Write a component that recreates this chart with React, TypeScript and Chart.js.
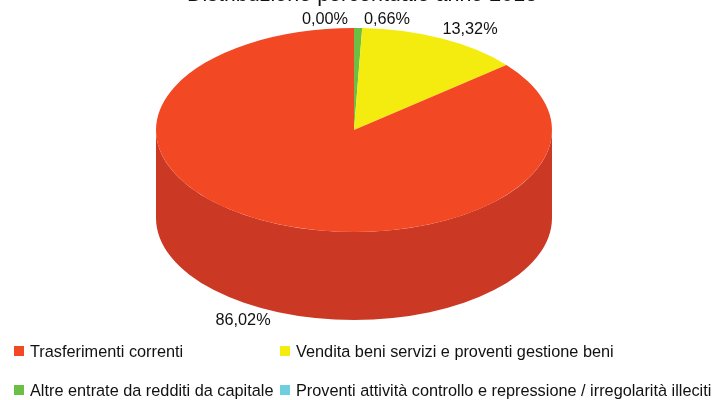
import React, { useEffect, useRef } from "react";
import { Chart, registerables } from "chart.js";

Chart.register(...registerables);

const titleText = "Distribuzione percentuale anno 2018";
const categories = [
  "Trasferimenti correnti",
  "Vendita beni servizi e proventi gestione beni",
  "Altre entrate da redditi da capitale",
  "Proventi attività controllo e repressione / irregolarità illeciti",
];
const seriesValues = [86.02, 13.32, 0.66, 0.0];
const topColors = ["#F24824", "#F4EC0F", "#6CBF45", "#6FCFE0"];
const sideColors = ["#CB3924", "#C9C20C", "#57A038", "#5AAAB8"];

// Layout constants (page pixels)
const CANVAS_TOP = -18;
const CENTER_X = 354;
const CENTER_Y = 130;
const RX = 198;
const RY = 102;
const DEPTH = 88;
const FONT = '"Liberation Sans", Arial, sans-serif';
const labelCentres = [
  [243, 321],
  [470, 30],
  [387, 20],
  [325, 20],
];
const legendCells = [
  [14, 353],
  [280, 353],
  [14, 392],
  [280, 392],
];

const pie3d = {
  id: "pie3d",
  beforeDatasetsDraw(chart: any) {
    const ctx = chart.ctx;
    const meta = chart.getDatasetMeta(0);
    const el = meta.data[0];
    const sx = RX / el.outerRadius;
    const sy = RY / el.outerRadius;
    ctx.save();
    ctx.translate(CENTER_X - el.x * sx, CENTER_Y - CANVAS_TOP - el.y * sy);
    ctx.scale(sx, sy);
    // Side wall: the front-facing part of every slice
    const cy = CENTER_Y - CANVAS_TOP;
    const wallCtx = chart.ctx;
    meta.data.forEach((arc: any, i: number) => {
      const start = Math.max(arc.startAngle, 0);
      const end = Math.min(arc.endAngle, Math.PI);
      if (end <= start) return;
      wallCtx.save();
      wallCtx.setTransform(1, 0, 0, 1, 0, 0);
      wallCtx.beginPath();
      wallCtx.ellipse(CENTER_X, cy, RX, RY, 0, start, end);
      wallCtx.ellipse(CENTER_X, cy + DEPTH, RX, RY, 0, end, start, true);
      wallCtx.closePath();
      wallCtx.fillStyle = sideColors[sideColors.length - 1 - i];
      wallCtx.fill();
      wallCtx.restore();
    });
  },
  afterDatasetsDraw(chart: any) {
    const ctx = chart.ctx;
    ctx.restore();
    const values = chart.data.datasets[0].data.slice().reverse();
    const names = chart.data.labels.slice().reverse();
    ctx.save();
    ctx.font = `16.3px ${FONT}`;
    ctx.fillStyle = "#111";
    ctx.textBaseline = "middle";
    ctx.textAlign = "center";
    values.forEach((v: number, i: number) => {
      const [x, y] = labelCentres[i];
      ctx.fillText(v.toFixed(2).replace(".", ",") + "%", x, y - CANVAS_TOP);
    });
    ctx.textAlign = "left";
    names.forEach((name: string, i: number) => {
      const [x, y] = legendCells[i];
      ctx.fillStyle = topColors[i];
      ctx.fillRect(x, y - 7 - CANVAS_TOP, 10, 10);
      ctx.fillStyle = "#111";
      ctx.fillText(name, x + 16, y - CANVAS_TOP);
    });
    ctx.restore();
  },
};

export default function App() {
  const ref = useRef<HTMLCanvasElement>(null);
  useEffect(() => {
    const chart = new Chart(ref.current as HTMLCanvasElement, {
      type: "pie",
      data: {
        labels: categories.slice().reverse(),
        datasets: [
          {
            data: seriesValues.slice().reverse(),
            backgroundColor: topColors.slice().reverse(),
            borderWidth: 0,
            hoverOffset: 0,
            clip: false,
          } as any,
        ],
      },
      options: {
        responsive: false,
        animation: false,
        plugins: {
          legend: { display: false },
          tooltip: { enabled: false },
          title: {
            display: true,
            text: titleText,
            color: "#111",
            padding: 0,
            font: { family: FONT, size: 21.5, weight: "normal" },
          },
        },
      },
      plugins: [pie3d as any],
    });
    return () => chart.destroy();
  }, []);
  return (
    <div
      style={{
        position: "fixed",
        left: 0,
        top: 0,
        width: 715,
        height: 400,
        overflow: "hidden",
        background: "#fff",
      }}
    >
      <canvas
        ref={ref}
        width={724}
        height={440}
        style={{ position: "absolute", left: 0, top: CANVAS_TOP, width: 724, height: 440 }}
      />
    </div>
  );
}
